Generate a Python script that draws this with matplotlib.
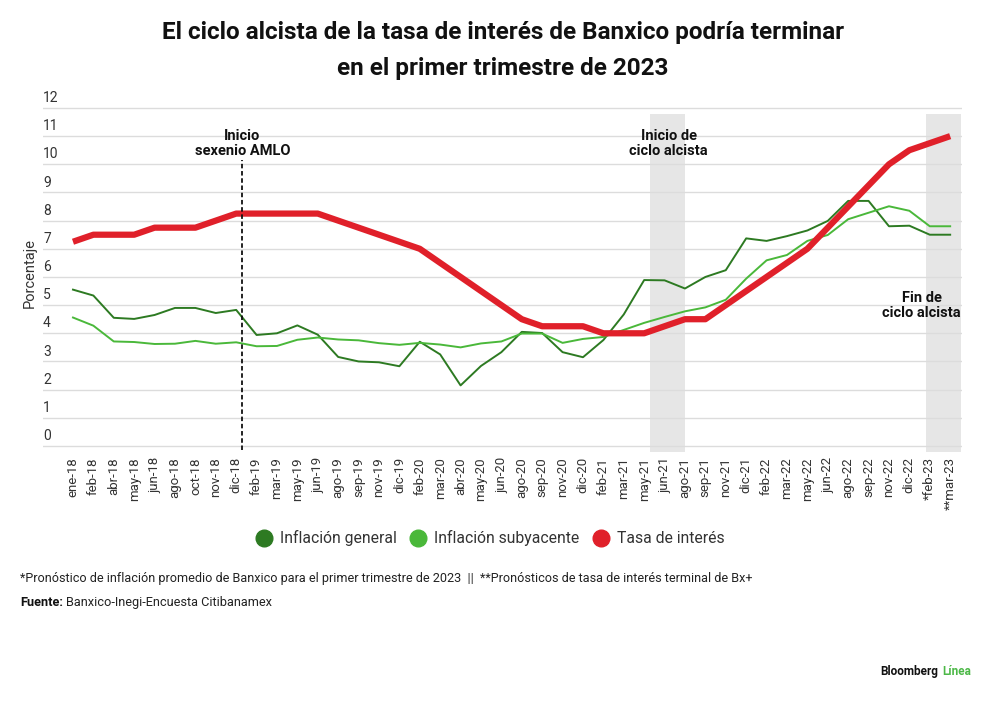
import numpy as np
import matplotlib
matplotlib.use('Agg')
import matplotlib.pyplot as plt
from matplotlib.lines import Line2D
import matplotlib.transforms as mtransforms

plt.rcParams['font.family'] = ['Roboto', 'DejaVu Sans']

# etiquetas del eje x (categorías)
meses = ['ene-18', 'feb-18', 'abr-18', 'may-18', 'jun-18', 'ago-18', 'oct-18', 'nov-18', 'dic-18',
         'feb-19', 'mar-19', 'may-19', 'jun-19', 'ago-19', 'sep-19', 'nov-19', 'dic-19',
         'feb-20', 'mar-20', 'abr-20', 'may-20', 'jun-20', 'ago-20', 'sep-20', 'nov-20', 'dic-20',
         'feb-21', 'mar-21', 'may-21', 'jun-21', 'ago-21', 'sep-21', 'nov-21', 'dic-21',
         'feb-22', 'mar-22', 'may-22', 'jun-22', 'ago-22', 'sep-22', 'nov-22', 'dic-22',
         '*feb-23', '**mar-23']

inflacion_general = [5.55, 5.34, 4.55, 4.51, 4.65, 4.90, 4.90, 4.72, 4.83,
                     3.94, 4.00, 4.28, 3.95, 3.16, 3.00, 2.97, 2.83,
                     3.70, 3.25, 2.15, 2.84, 3.33, 4.05, 4.01, 3.33, 3.15,
                     3.76, 4.67, 5.89, 5.88, 5.59, 6.00, 6.24, 7.37,
                     7.28, 7.45, 7.65, 7.99, 8.70, 8.70, 7.80, 7.82,
                     7.50, 7.50]

inflacion_subyacente = [4.56, 4.27, 3.71, 3.69, 3.62, 3.63, 3.73, 3.63, 3.68,
                        3.54, 3.55, 3.77, 3.85, 3.78, 3.75, 3.65, 3.59,
                        3.66, 3.60, 3.50, 3.64, 3.71, 3.99, 3.99, 3.66, 3.80,
                        3.87, 4.12, 4.37, 4.58, 4.78, 4.92, 5.19, 5.94,
                        6.59, 6.78, 7.28, 7.49, 8.05, 8.28, 8.51, 8.35,
                        7.80, 7.80]

tasa_interes = [7.25, 7.50, 7.50, 7.50, 7.75, 7.75, 7.75, 8.00, 8.25,
                8.25, 8.25, 8.25, 8.25, 8.00, 7.75, 7.50, 7.25,
                7.00, 6.50, 6.00, 5.50, 5.00, 4.50, 4.25, 4.25, 4.25,
                4.00, 4.00, 4.00, 4.25, 4.50, 4.50, 5.00, 5.50,
                6.00, 6.50, 7.00, 7.75, 8.50, 9.25, 10.00, 10.50,
                10.75, 11.00]

c_general = '#2d7a22'
c_subyacente = '#4ab83a'
c_tasa = '#e0202a'

x = np.arange(len(meses))

fig = plt.figure(figsize=(10, 7.01), dpi=100)
ax = fig.add_axes([0.043, 0.3558, 0.919, 0.4942])

# zonas sombreadas: inicio y fin del ciclo alcista
ax.axvspan(28.3, 30.0, ymin=0, ymax=12.0 / 12.3, color='#e6e6e6', lw=0, zorder=0)
ax.axvspan(41.8, 43.55, ymin=0, ymax=12.0 / 12.3, color='#e6e6e6', lw=0, zorder=0)

# líneas de cuadrícula
for v in range(0, 13):
    ax.axhline(v, color='#dcdcdc', lw=1, zorder=1)

ax.plot(x, inflacion_general, color=c_general, lw=1.4, zorder=3)
ax.plot(x, inflacion_subyacente, color=c_subyacente, lw=1.4, zorder=3)
ax.plot(x, tasa_interes, color=c_tasa, lw=4.5, solid_capstyle='butt', zorder=4)

# línea punteada inicio sexenio
i_amlo = meses.index('dic-18') + 0.3
ax.plot([i_amlo, i_amlo], [-0.15, 10.15], color='#111111', lw=1.3, ls=(0, (2.5, 1.5)),
        zorder=5, clip_on=False)

ax.text(i_amlo, 10.75, 'Inicio\nsexenio AMLO', ha='center', va='center', fontsize=10.5,
        fontweight='bold', color='#111111', linespacing=1.1)
ax.text(29.2, 10.75, 'Inicio de\nciclo alcista', ha='center', va='center', fontsize=10.5,
        fontweight='bold', color='#111111', linespacing=1.1)
ax.text(41.6, 5.0, 'Fin de\nciclo alcista', ha='center', va='center', fontsize=10.5,
        fontweight='bold', color='#111111', linespacing=1.1)

ax.set_xlim(-1.47, 43.58)
ax.set_ylim(-0.2, 12.1)

ax.set_xticks(x)
ax.set_xticklabels(meses, rotation=90, fontsize=9.5, color='#333333')
ax.tick_params(axis='x', length=0, pad=4)
ax.set_yticks([])

# etiquetas del eje y sobre las líneas
trans = mtransforms.blended_transform_factory(ax.transAxes, ax.transData)
for v in range(0, 13):
    ax.text(0.0, v + 0.1, str(v), transform=trans, ha='left', va='bottom',
            fontsize=10, color='#333333')

for s in ax.spines.values():
    s.set_visible(False)

fig.text(0.03, 0.61, 'Porcentaje', rotation=90, ha='center', va='center',
         fontsize=10.5, color='#333333')

# título
fig.text(0.503, 0.953, 'El ciclo alcista de la tasa de interés de Banxico podría terminar',
         ha='center', va='center', fontsize=17.5, fontweight='bold', color='#111111')
fig.text(0.503, 0.902, 'en el primer trimestre de 2023',
         ha='center', va='center', fontsize=17.5, fontweight='bold', color='#111111')

# leyenda
handles = [Line2D([], [], ls='', marker='o', ms=12, color=c_general),
           Line2D([], [], ls='', marker='o', ms=12, color=c_subyacente),
           Line2D([], [], ls='', marker='o', ms=12, color=c_tasa)]
fig.legend(handles, ['Inflación general', 'Inflación subyacente', 'Tasa de interés'],
           loc='center', bbox_to_anchor=(0.488, 0.232), ncol=3, frameon=False,
           fontsize=11.3, handletextpad=0.2, columnspacing=0.6, handlelength=1.6,
           labelcolor='#333333')

fig.text(0.02, 0.175, '*Pronóstico de inflación promedio de Banxico para el primer trimestre de 2023  ||  '
         '**Pronósticos de tasa de interés terminal de Bx+',
         ha='left', va='center', fontsize=9.05, color='#222222')
t = fig.text(0.02, 0.14, 'Fuente:', ha='left', va='center', fontsize=9.2,
             fontweight='bold', color='#111111')
fig.canvas.draw()
bb = t.get_window_extent().transformed(fig.transFigure.inverted())
fig.text(bb.x1 + 0.003, 0.14, 'Banxico-Inegi-Encuesta Citibanamex', ha='left', va='center',
         fontsize=9.2, color='#222222')

t2 = fig.text(0.88, 0.042, 'Bloomberg', ha='left', va='center', fontsize=8.5,
              fontweight='bold', color='#111111')
fig.canvas.draw()
bb2 = t2.get_window_extent().transformed(fig.transFigure.inverted())
fig.text(bb2.x1 + 0.004, 0.042, 'Línea', ha='left', va='center', fontsize=8.5,
         fontweight='bold', color='#4cb847')

fig.savefig('out.png', dpi=100, facecolor='white')
